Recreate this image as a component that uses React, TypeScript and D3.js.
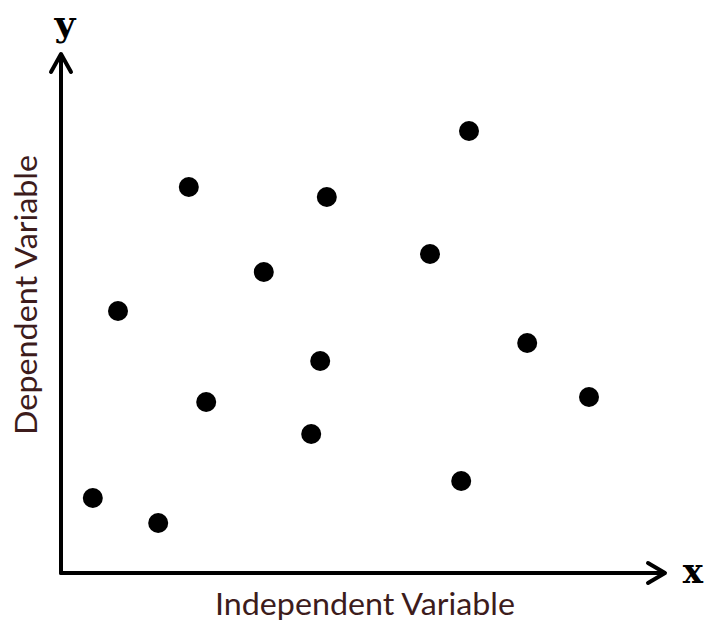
import React from "react";
import * as d3 from "d3";

const xValues = [0.53, 1.62, 0.95, 2.13, 2.42, 3.38, 4.43, 4.32, 4.17, 6.15, 6.8, 6.67, 7.77, 8.8];
const yValues = [1.5, 1.0, 5.24, 7.72, 3.42, 6.02, 7.52, 4.24, 2.78, 6.38, 8.84, 1.84, 4.6, 3.52];

const xTitle = "Independent Variable";
const yTitle = "Dependent Variable";

const W = 706;
const H = 623;
const labelColor = "#3d1c1c";

const App: React.FC = () => {
  const x = d3.scaleLinear().domain([0, 10]).range([61, 661]);
  const y = d3.scaleLinear().domain([0, 10]).range([573, 73]);

  const x0 = x(0);
  const y0 = y(0);
  const xEnd = 665;
  const yTop = 54;

  const points = xValues.map((v, i) => ({ x: v, y: yValues[i] }));

  return (
    <svg
      width={W}
      height={H}
      style={{ position: "absolute", left: 0, top: 0, background: "#fff" }}
    >
      {/* axes */}
      <g stroke="#000" strokeWidth={4} fill="none" strokeLinecap="round" strokeLinejoin="round">
        <line x1={x0} y1={y0} x2={x0} y2={yTop + 2} />
        <line x1={x0} y1={y0} x2={xEnd - 2} y2={y0} />
        <path d={`M${x0 - 10},${yTop + 18}L${x0},${yTop}L${x0 + 10},${yTop + 18}`} />
        <path d={`M${xEnd - 17},${y0 - 10}L${xEnd},${y0}L${xEnd - 17},${y0 + 10}`} />
      </g>

      <text
        x={x0 + 4}
        y={36}
        textAnchor="middle"
        fontFamily="'DejaVu Serif', 'Liberation Serif', serif"
        fontWeight="bold"
        fontSize={36}
        fill="#000"
      >
        y
      </text>
      <text
        x={693}
        y={583}
        textAnchor="middle"
        fontFamily="'DejaVu Serif', 'Liberation Serif', serif"
        fontWeight="bold"
        fontSize={34}
        fill="#000"
      >
        x
      </text>

      {/* axis titles */}
      <text
        x={365}
        y={615}
        textAnchor="middle"
        fontFamily="Lato, 'Open Sans', sans-serif"
        fontSize={31}
        fill={labelColor}
        textLength={300}
        lengthAdjust="spacingAndGlyphs"
      >
        {xTitle}
      </text>
      <text
        transform={`translate(37,295) rotate(-90)`}
        textAnchor="middle"
        fontFamily="Lato, 'Open Sans', sans-serif"
        fontSize={31}
        fill={labelColor}
        textLength={280}
        lengthAdjust="spacingAndGlyphs"
      >
        {yTitle}
      </text>

      {/* points */}
      <g fill="#000">
        {points.map((d, i) => (
          <circle key={i} cx={x(d.x)} cy={y(d.y)} r={10} />
        ))}
      </g>
    </svg>
  );
};

export default App;
